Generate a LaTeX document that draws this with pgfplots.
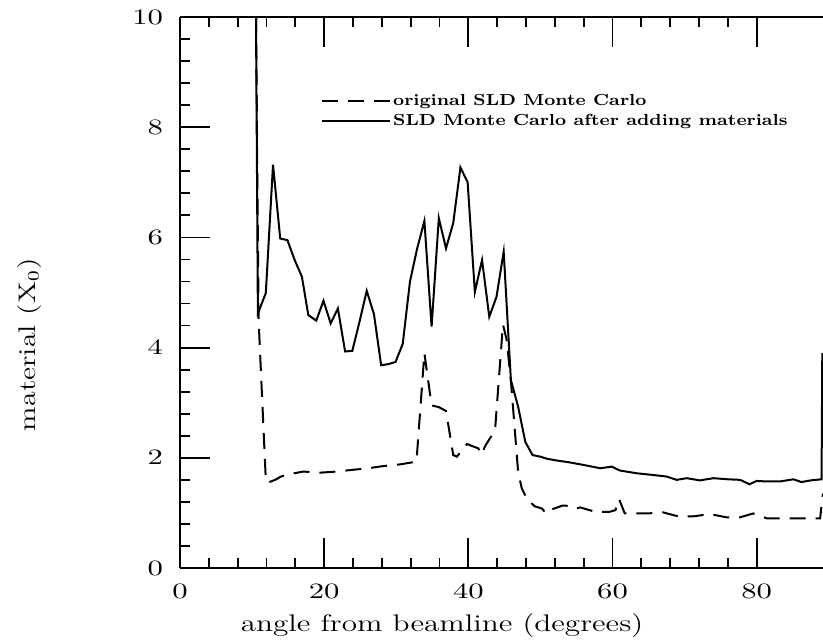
\documentclass[border=0pt]{standalone}
\usepackage{graphicx}
\usepackage{pgfplots}
\pgfplotsset{compat=1.18}
\begin{document}
\begin{tikzpicture}
\begin{axis}[
  name=ax,
  scale only axis,
  width=321.5pt, height=275.5pt,
  xmin=0, xmax=89.2, ymin=0, ymax=10,
  axis x line=box, axis y line=left,
  axis line style={-, line width=0.9pt},
  every outer x axis line/.append style={-},
  every outer y axis line/.append style={-},
  tick align=inside,
  xtick={0,20,40,60,80}, minor x tick num=4,
  ytick={0,2,4,6,8,10}, minor y tick num=4,
  major tick length=15pt, minor tick length=5pt,
  every tick/.style={line width=0.9pt, black},
  xticklabel={\scalebox{1.4}[1]{$\pgfmathprintnumber{\tick}$}},
  yticklabel={\scalebox{1.4}[1]{$\pgfmathprintnumber{\tick}$}},
  xticklabel style={font=\fontsize{11}{13}\selectfont, yshift=-4.5pt},
  yticklabel style={font=\fontsize{11}{13}\selectfont, xshift=-5pt},
  every axis x label/.style={at={(axis description cs:0.4075,0)}, anchor=base, yshift=-32pt, font=\fontsize{12}{14}\selectfont},
  every axis y label/.style={at={(axis description cs:-0.2348,0.405)}, anchor=center, rotate=90, font=\fontsize{12}{14}\selectfont},
  xlabel={\scalebox{1.3}[1]{angle from beamline (degrees)}},
  ylabel={\scalebox{1.25}[1]{material (X$_0$)}},
  legend style={at={(axis description cs:0.219,0.829)}, anchor=west, draw=none, fill=none,
    font=\fontsize{8}{9}\selectfont\bfseries, inner sep=0pt, row sep=1pt,
    nodes={inner sep=1pt}},
  legend cell align=left,
  legend image code/.code={\draw[#1] (0pt,0pt) -- (34pt,0pt);},
]
\addplot[black, line width=1pt, dash pattern=on 8pt off 5pt] coordinates {
(10.54,10) (10.9,4.5) (11.9,1.6) (12.2,1.55) (13.2,1.60) (14.0,1.66) (15.0,1.70)
(17.1,1.75) (19.4,1.73) (21.7,1.75) (23.8,1.78) (26.1,1.81) (28.2,1.85) (30.5,1.88)
(32.8,1.93) (33.9,3.90) (34.9,2.95) (35.9,2.92) (36.9,2.85) (37.9,2.05) (38.4,2.02)
(39.8,2.25) (41.4,2.17) (41.8,2.06) (42.4,2.23) (43.7,2.50) (44.8,4.42) (45.3,4.15)
(45.9,3.40) (46.9,1.75) (47.4,1.45) (48.1,1.26) (49.2,1.12) (50.2,1.08) (50.8,0.99)
(51.7,1.07) (53.0,1.13) (53.6,1.13) (54.8,1.07) (55.5,1.10) (57.6,1.02) (59.6,1.02)
(60.4,1.05) (60.9,1.25) (61.7,0.99) (62.6,0.99) (64.9,0.99) (67.0,1.01) (69.3,0.93)
(71.4,0.94) (73.5,0.98) (75.8,0.92) (77.7,0.92) (79.5,0.99) (81.4,0.90) (83.2,0.90)
(86.5,0.90) (88.8,0.90) (89.0,1.14) (89.2,1.35)
};
\addlegendentry{\scalebox{1.13}[1]{original SLD Monte Carlo}}
\addplot[black, line width=1pt] coordinates {
(10.54,10) (10.8,4.62) (11.9,4.99) (12.9,7.32) (13.9,5.98) (14.9,5.95) (15.9,5.59)
(16.9,5.29) (17.8,4.59) (18.9,4.49) (19.9,4.85) (20.9,4.44) (21.9,4.71) (22.9,3.93)
(23.9,3.94) (24.9,4.47) (25.9,5.03) (26.9,4.61) (27.9,3.68) (28.9,3.70) (29.9,3.74)
(30.9,4.07) (31.9,5.20) (32.9,5.80) (33.9,6.30) (34.9,4.38) (35.9,6.35) (36.9,5.80)
(37.9,6.26) (38.9,7.27) (39.9,7.00) (40.9,5.01) (41.9,5.59) (42.9,4.56) (43.9,4.92)
(44.9,5.74) (45.9,3.41) (46.9,2.93) (47.9,2.29) (48.9,2.05) (50.0,2.02) (51.0,1.98)
(52.3,1.95) (53.9,1.92) (56.0,1.87) (58.3,1.81) (59.9,1.84) (61.0,1.77) (63.3,1.72)
(65.5,1.69) (67.5,1.66) (68.9,1.60) (70.3,1.63) (72.1,1.59) (74.0,1.63) (76.0,1.61)
(77.7,1.60) (79.0,1.52) (80.0,1.58) (81.5,1.57) (83.2,1.57) (85.1,1.61) (86.2,1.56)
(87.5,1.59) (89.0,1.61) (89.1,3.9)
};
\addlegendentry{\scalebox{1.13}[1]{SLD Monte Carlo after adding materials}}
\coordinate (bl) at (rel axis cs:-0.28,-0.1343);
\coordinate (tr) at (rel axis cs:1,1.0309);
\end{axis}
\pgfresetboundingbox
\path (bl) rectangle (tr);
\end{tikzpicture}
\end{document}
